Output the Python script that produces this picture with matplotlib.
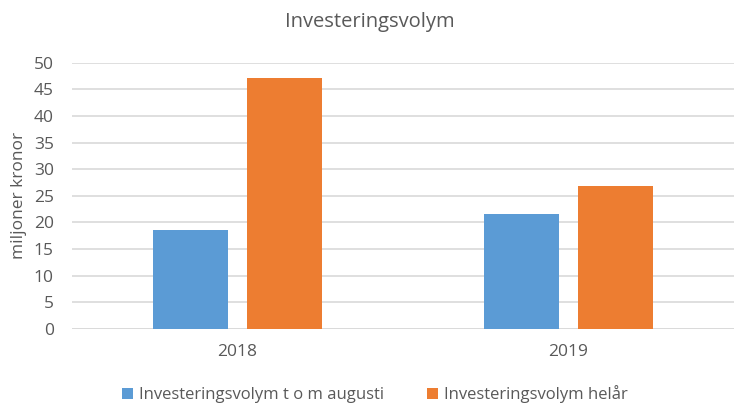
import numpy as np
import matplotlib.pyplot as plt
from matplotlib.patches import Patch

plt.rcParams['font.family'] = ['Open Sans', 'DejaVu Sans']

# data
years = ['2018', '2019']
aug_values = [18.6, 21.6]
full_values = [47.1, 26.8]
series_labels = ['Investeringsvolym t o m augusti', 'Investeringsvolym helår']
yticks = [0, 5, 10, 15, 20, 25, 30, 35, 40, 45, 50]

BLUE = '#5B9BD5'
ORANGE = '#ED7D31'
TEXT = '#595959'
GRID = '#D9D9D9'

fig = plt.figure(figsize=(7.34, 4.08), dpi=100)
ax = fig.add_axes([0.098, 0.194, 0.902, 0.652])

x = np.arange(len(years))
w = 0.227
off = 0.143
ax.bar(x - off, aug_values, w, color=BLUE, zorder=3)
ax.bar(x + off, full_values, w, color=ORANGE, zorder=3)

ax.set_xlim(-0.5, 1.5)
ax.set_ylim(0, 50)
ax.set_yticks(yticks)
ax.set_xticks(x)
ax.set_xticklabels(years)
ax.yaxis.grid(True, color=GRID, linewidth=1.2, zorder=0)
for s in ax.spines.values():
    s.set_visible(False)
ax.axhline(0, color=GRID, linewidth=1.2, zorder=2)
ax.tick_params(axis='both', length=0, labelsize=12.5, colors=TEXT)
ax.tick_params(axis='y', pad=13)
ax.tick_params(axis='x', pad=11)
ax.set_ylabel('miljoner kronor', fontsize=12.5, color=TEXT, labelpad=5)

fig.text(0.504, 0.946, 'Investeringsvolym', ha='center', va='center',
         fontsize=14.5, color=TEXT)

handles = [Patch(facecolor=BLUE), Patch(facecolor=ORANGE)]
fig.legend(handles, series_labels, loc='center', bbox_to_anchor=(0.511, 0.034),
           ncol=2, frameon=False, fontsize=12, labelcolor=TEXT,
           handlelength=0.65, handleheight=0.65, handletextpad=0.35,
           columnspacing=2.6)

fig.savefig('out.png', dpi=100)
